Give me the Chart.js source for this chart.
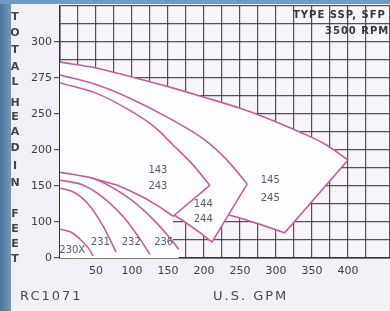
<!DOCTYPE html>
<html><head><meta charset="utf-8">
<script src="https://cdn.jsdelivr.net/npm/chart.js@4/dist/chart.umd.min.js"></script>
<style>
html,body{margin:0;padding:0;background:#f2f1f8;}
#wrap{position:relative;width:390px;height:311px;overflow:hidden;}
#left{position:absolute;left:0;top:0;width:11px;height:311px;background:linear-gradient(to right,#4d77a0,#7098be);}
#top{position:absolute;left:0;top:0;width:390px;height:4px;background:#6e9ac4;}
canvas{position:absolute;left:0;top:0;}
</style></head>
<body><div id="wrap"><canvas id="c" width="390" height="311"></canvas><div id="left"></div><div id="top"></div></div>
<script>
// ---- data (x = U.S. GPM, y = head on the chart's axis scale) ----
const yTickLabels = ['0','100','150','200','250','275','300'];

const max145Gpm  = [0, 50, 97, 150, 201, 250, 278, 333, 370, 400];
const max145Head = [272, 264, 252, 238, 223, 208, 198, 175, 157, 136];
const min145Gpm  = [0, 50, 100, 150, 200, 250, 280, 312, 400];
const min145Head = [93, 91.5, 87, 79.5, 69, 55.5, 46, 35, 136];

const max144Gpm  = [0, 50, 97, 150, 201, 230, 260];
const max144Head = [254, 241, 222, 195, 164, 138, 103];
const min144Gpm  = [0, 50, 100, 125, 150, 175, 195, 211, 260];
const min144Head = [110, 105, 90, 79, 65.5, 49, 35, 22, 103];

const max143Gpm  = [0, 50, 97, 130, 157, 185, 208];
const max143Head = [243, 229, 205, 183, 157, 129, 101];
const min143Gpm  = [0, 40, 80, 100, 120, 140, 157, 208];
const min143Head = [116, 112, 101, 92, 82, 70, 58, 101];

const pump236Gpm  = [0, 50, 100, 130, 150, 165];
const pump236Head = [119, 109, 80, 53, 31, 12];
const pump232Gpm  = [0, 30, 60, 90, 110, 125];
const pump232Head = [108, 102, 84, 55, 28, 5];
const pump231Gpm  = [0, 20, 40, 60, 78];
const pump231Head = [97, 91, 74, 44, 8];
const pump230XGpm  = [0, 15, 30, 40, 46];
const pump230XHead = [40, 36, 24, 13, 3];

const regionLabels = [
  ['143', 136, 121], ['243', 136, 99],
  ['144', 199, 74],  ['244', 199, 53],
  ['145', 292, 108], ['245', 292, 83],
  ['230X', 17, 11], ['231', 56, 22], ['232', 99, 22], ['236', 144, 22]
];
const yTitleLetters = [['T',17],['O',33],['T',50],['A',67],['L',82],['H',103],['E',117],['A',132],['D',148],['I',166],['N',183],['F',214],['E',229],['E',244],['T',259]];

// ---- chart ----
const PINK = '#bf5f9e';
const WHITE = '#fefdff';
const pts = (g, h) => g.map((x, i) => ({x: x, y: h[i]}));
function line(g, h, extra) {
  return Object.assign({data: pts(g, h), borderColor: PINK, borderWidth: 1.6, pointRadius: 0,
    fill: false, cubicInterpolationMode: 'monotone', backgroundColor: WHITE}, extra);
}
const baseData = pts(min143Gpm.slice(0, 7), min143Head.slice(0, 7)).concat([{x: min143Gpm[6], y: 0}]);

const datasets = [
  line(max145Gpm, max145Head, {fill: '+1', order: 11}),
  line(min145Gpm, min145Head, {cubicInterpolationMode: 'default', tension: 0, order: 10}),
  line(max144Gpm, max144Head, {fill: '+1', order: 9}),
  line(min144Gpm, min144Head, {cubicInterpolationMode: 'default', tension: 0, order: 8}),
  {data: baseData, borderColor: 'rgba(0,0,0,0)', borderWidth: 0, pointRadius: 0, fill: 'origin', backgroundColor: WHITE, tension: 0, order: 7},
  line(max143Gpm, max143Head, {fill: '+1', order: 6}),
  line(min143Gpm, min143Head, {cubicInterpolationMode: 'default', tension: 0, order: 5}),
  line(pump236Gpm, pump236Head, {fill: 'origin', order: 4}),
  line(pump232Gpm, pump232Head, {fill: 'origin', order: 3}),
  line(pump231Gpm, pump231Head, {fill: 'origin', order: 2}),
  line(pump230XGpm, pump230XHead, {fill: 'origin', order: 1})
];

const GRID = 'rgba(52,52,64,0.85)';
const decor = {
  id: 'decor',
  beforeDraw(chart) {
    const {ctx, chartArea: a} = chart;
    ctx.save();
    ctx.fillStyle = '#f8f5fa';
    ctx.fillRect(a.left, a.top, a.right - a.left, a.bottom - a.top);
    ctx.restore();
  },
  afterDraw(chart) {
    const {ctx} = chart;
    const xs = chart.scales.x, ys = chart.scales.y;
    ctx.save();
    ctx.textAlign = 'center';
    ctx.textBaseline = 'middle';
    ctx.fillStyle = '#555a6e';
    ctx.font = '10px "DejaVu Sans"';
    regionLabels.forEach(([t, gx, hy]) => ctx.fillText(t, xs.getPixelForValue(gx), ys.getPixelForValue(hy)));
    ctx.fillStyle = '#444';
    ctx.font = 'bold 11px "DejaVu Sans"';
    yTitleLetters.forEach(([t, y]) => ctx.fillText(t, 15, y));
    ctx.textAlign = 'left';
    ctx.font = '13px "DejaVu Sans"';
    ctx.letterSpacing = '2px';
    ctx.fillStyle = '#4a4a4a';
    ctx.fillText('RC1071', 20, 297);
    ctx.fillText('U.S. GPM', 213, 297);
    ctx.font = 'bold 10px "DejaVu Sans"';
    ctx.letterSpacing = '1px';
    ctx.fillStyle = '#383838';
    ctx.fillText('TYPE SSP, SFP', 293, 15);
    ctx.fillText('3500 RPM', 325, 31);
    ctx.restore();
  }
};

new Chart(document.getElementById('c'), {
  type: 'line',
  data: {datasets: datasets},
  plugins: [decor],
  options: {
    responsive: false,
    animation: false,
    events: [],
    layout: {padding: {top: 6, left: 0, right: 0, bottom: 0}},
    plugins: {legend: {display: false}, tooltip: {enabled: false}, filler: {drawTime: 'beforeDatasetDraw'}},
    scales: {
      x: {
        type: 'linear', min: 0, max: 458.3,
        afterFit: s => { s.height = 53; s.paddingLeft = 0; s.paddingRight = 0; },
        border: {display: true, color: '#333', width: 1.5},
        grid: {color: GRID, lineWidth: 1.2, drawTicks: false},
        ticks: {stepSize: 25, autoSkip: false, maxRotation: 0, padding: 7, color: '#3d3d3d',
          font: {family: 'DejaVu Sans', size: 11},
          callback: v => (v % 50 === 0 && v > 0 && v <= 400) ? String(v) : ''}
      },
      y: {
        type: 'linear', min: 0, max: 350,
        afterFit: s => { s.width = 60; s.paddingTop = 0; s.paddingBottom = 0; },
        border: {display: true, color: '#333', width: 1.5},
        grid: {color: GRID, lineWidth: 1.2, tickLength: 6,
          tickColor: c => (c.tick && c.tick.value % 50 === 0 && c.tick.value <= 300) ? '#555' : 'rgba(0,0,0,0)'},
        ticks: {stepSize: 25, autoSkip: false, padding: 2, color: '#3d3d3d',
          font: {family: 'DejaVu Sans', size: 11},
          callback: v => (v % 50 === 0 && v / 50 < yTickLabels.length) ? yTickLabels[v / 50] : ''}
      }
    }
  }
});
</script>
</body></html>
